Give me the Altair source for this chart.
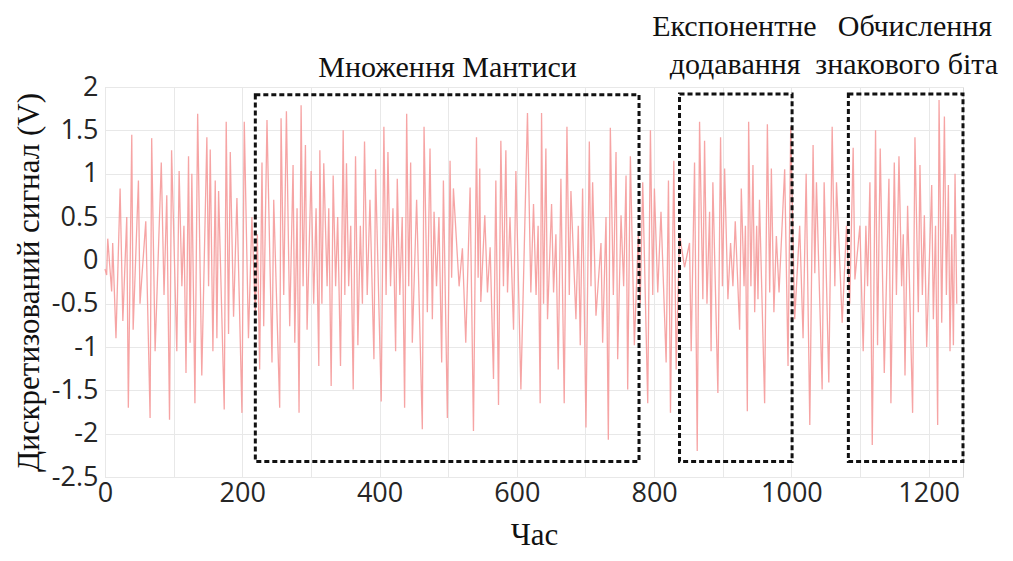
import altair as alt
import pandas as pd

# ---- signal extrema (time, volts) ----
time_a = [0, 2.4, 4, 9.7, 11.2, 16, 22, 26, 31.7, 34, 39, 41, 48.7, 51, 59.4, 65.7, 68, 73, 82, 86,
          90, 94, 97, 104.6, 108, 112, 115, 118, 121.7, 124, 126.5, 131, 135, 141, 148.4, 150.9, 153.3,
          157.2, 160.6, 163, 165.5, 173.7, 176.6, 180, 182.5, 187.3, 192.2, 199.5, 202.9]
volt_a = [-0.1, -0.17, 0.25, -0.36, 0.2, -0.9, 0.83, -0.7, 0.5, -1.7, 1.45, -0.8, 0.92, -0.5, 0.45, -1.82,
          1.41, -1.05, 1.13, -0.4, 0.75, -1.84, 1.27, -1.05, 1.03, -0.3, 0.4, -1.3, 1.2, -0.95, 1.0, -1.65,
          1.69, -1.33, 1.42, -0.3, 1.28, -1.05, 0.92, -0.9, 0.8, -1.72, 1.6, -0.85, 1.25, -0.65, 0.72, -1.76, 1.6]

time_b = [209, 214, 219, 222, 225.3, 228.7, 231.2, 236, 243.3, 245.8, 254.5, 256.5, 260.4, 264.3, 269.1,
          274, 276.5, 279.8, 282.7, 285.7, 288.6, 292, 294.4, 300.3, 304, 307.5, 311.5, 313, 316, 318.7,
          323.6, 326, 329.5, 332.4, 336, 339, 343.1, 347, 349.4, 351.8, 355, 358, 361.6, 365, 368.4, 372,
          375, 378.1, 382, 386, 391.8, 394.2, 402.4, 406.3]
volt_b = [-0.9, 0.5, -0.6, 0.3, -1.26, 1.13, -0.76, 1.62, -1.18, 0.7, -1.7, 1.64, -0.4, 1.72, -0.76,
          1.1, -0.95, 0.6, -1.76, 1.79, -0.3, 1.33, -0.8, 1.03, -0.5, 0.6, -1.22, 1.27, -0.5, 1.12,
          -0.3, 0.6, -1.45, 0.98, -0.3, 0.5, -1.22, 1.5, -0.4, 1.12, -0.3, 0.4, -1.49, 1.2, -0.98, 0.4,
          -0.5, 1.37, -0.4, 0.7, -1.14, 1.05, -1.63, 1.54]

time_c = [409.5, 412.2, 416, 419.5, 423.4, 425.8, 429.5, 433, 436.5, 439.5, 442.5, 445.3, 447.7, 454,
          462.3, 464.8, 469.6, 473.5, 476.9, 479.4, 483, 486.5, 490.5, 493, 498.8, 502.7, 505, 507.6,
          515.9, 520.7, 525.6, 531.9, 536.8, 541.2, 543.6, 546, 547.5, 553.3, 557.2, 561.1, 566, 569.4,
          573.3, 576.7, 580.5, 584, 586.4, 590, 595.2, 598.6, 605.9]
volt_c = [-0.4, 1.25, -0.3, 0.6, -1.05, 0.94, -0.4, 0.5, -1.7, 1.69, -0.3, 1.13, -0.95, 0.7,
          -1.95, 1.54, -0.6, 1.29, -0.68, 0.56, -0.3, 0.5, -1.18, 0.92, -1.82, 1.15, -0.2, 0.83,
          -0.3, 0.14, -0.95, 0.84, -1.97, 1.42, -0.2, 1.06, -0.48, 0.52, -0.37, 0.15, -1.37, 0.92,
          -1.67, 1.38, -0.3, 1.27, -0.37, 0.5, -0.8, 1.03, -1.49]

time_d = [615.5, 620.4, 624.3, 628, 631, 634, 636, 638.9, 642.3, 644.7, 650.6, 653.5, 656.9, 660.3,
          664.2, 669, 673, 676.4, 678.8, 686.1, 689.5, 692.4, 695.8, 700.7, 705.6, 708, 710.4, 715.3,
          722.6, 725, 729.9, 733.3, 736.2, 740.6, 744.5, 746.9, 751.8, 755.6, 759.1, 761.5, 765.4,
          771.2, 777, 779.8, 783.4, 790.7, 794.6, 798, 800.4, 805.3, 810]
volt_d = [1.7, -0.37, 0.65, -0.4, 0.4, -1.65, 1.7, -0.5, 1.29, -0.68, 0.65, -0.37, 0.3, -1.26,
          0.94, -1.65, 1.54, -0.4, 0.8, -0.68, 0.4, -0.98, 0.83, -1.93, 1.37, -0.3, 0.9, -0.64,
          0.2, -0.95, 0.5, -2.07, 1.53, -0.4, 1.25, -1.14, 0.52, -0.3, 0.98, -1.49, 1.2,
          -0.98, 0.3, -0.5, 0.9, -1.65, 1.5, -0.4, 0.83, -0.37, 0.56]

time_e = [817.5, 820.9, 823.8, 828.7, 832.1, 837, 844.3, 851.6, 854, 858.9, 862.8, 866.2, 871, 873.5,
          877, 880.8, 883, 885.6, 892.9, 896.8, 899.5, 902.7, 907.5, 911.4, 914.8, 918.2, 924.6, 927,
          931, 933, 935.8, 937.7, 941, 944, 946.5, 949.4, 951.3, 953.5, 961, 965, 968.4, 970.8, 974.5,
          978.1, 982, 990.2, 995.1, 999, 1004.8, 1012.1, 1017, 1021.5]
volt_e = [-1.18, 0.92, -1.76, 1.15, -1.26, 0.3, -0.08, 0.2, -1.05, 1.13, -2.2, 1.6, -0.45, 1.38,
          -0.5, 0.56, -1.05, 0.9, -1.53, 1.42, -0.3, 1.06, -0.45, 0.2, -0.3, 0.45, -0.8, 0.83,
          -0.3, 0.4, -1.74, 1.6, -0.3, 1.1, -0.6, 0.4, -0.45, 0.7, -1.65, 1.57, -0.37, 1.06, -0.6,
          0.28, -0.37, 1.05, -1.22, 1.54, -0.68, 0.4, -0.9, 1.0]

time_f = [1026.8, 1031.6, 1034.1, 1036.5, 1044.8, 1047.7, 1054.5, 1059.4, 1063.3, 1065.7, 1074, 1080.3,
          1085, 1090, 1092.5, 1099.8, 1104.6, 1108.5, 1111, 1114.4, 1117.8, 1122.6, 1125.5, 1129.4,
          1135.3, 1142.1, 1145, 1149.9, 1153, 1156.7, 1160.6, 1163, 1165.5, 1169.3, 1176.6, 1180,
          1184.9, 1187.3, 1190.8, 1193.7, 1197.1, 1204.4, 1206.8, 1210, 1213.1, 1215.1, 1219, 1222.9,
          1225.8, 1228.7, 1231.1, 1233.6, 1236, 1238.4, 1240.9]
volt_f = [-1.9, 1.33, -0.15, 0.9, -1.49, 0.9, -1.41, 1.54, -0.3, 0.9, -0.72, 0.4,
          -0.5, 1.3, -0.22, 0.4, -1.05, 0.4, -0.3, 0.9, -2.13, 1.5, -0.98, 1.29,
          -1.3, 0.94, -1.65, 1.13, -0.4, 1.2, -0.3, 0.3, -1.33, 0.63, -1.76, 1.42,
          -0.6, 1.1, -0.4, 0.52, -1.0, 0.87, -0.68, 0.4, -1.9, 1.85, -0.72, 1.66,
          -0.4, 0.87, -1.05, 0.3, -0.98, 1.0, -0.5]

# ---- highlighted regions ----
box_labels = ["Множення Мантиси", "Експонентне додавання", "Обчислення знакового біта"]
box_x1 = [219, 837, 1083]
box_x2 = [778, 1001, 1250]
box_y1 = [-2.32, -2.32, -2.32]
box_y2 = [1.91, 1.92, 1.92]

# ---- annotation texts ----
note_text = ["Множення Мантиси", "Експонентне", "додавання", "Обчислення", "знакового біта"]
note_x = [499, 917, 918, 1180, 1168]
note_y = [2.22, 2.69, 2.255, 2.69, 2.255]

x_ticks = list(range(0, 1300, 100))
y_ticks = [-2.5, -2, -1.5, -1, -0.5, 0, 0.5, 1, 1.5, 2]

times, volts = [], []
for tt, vv in [(time_a, volt_a), (time_b, volt_b), (time_c, volt_c),
               (time_d, volt_d), (time_e, volt_e), (time_f, volt_f)]:
    assert len(tt) == len(vv), (len(tt), len(vv), tt[0])
    times += tt
    volts += vv

signal = pd.DataFrame({"t": times, "v": volts})
boxes = pd.DataFrame({"name": box_labels, "x1": box_x1, "x2": box_x2, "y1": box_y1, "y2": box_y2})
notes = pd.DataFrame({"text": note_text, "x": note_x, "y": note_y})

xscale = alt.Scale(domain=[0, 1250], nice=False, zero=False)
yscale = alt.Scale(domain=[-2.5, 2], nice=False, zero=False)

xaxis = alt.Axis(values=x_ticks, format="d",
                 labelExpr="datum.value % 200 === 0 ? datum.label : ''",
                 labelOverlap=False, labelFlush=False, title="Час", grid=True,
                 gridColor="#e8e8e8", ticks=False, domain=False, labelFont="Open Sans",
                 labelFontSize=27, labelColor="#262626", labelPadding=3,
                 titleFont="Liberation Serif", titleFontSize=31, titleFontWeight="normal",
                 titleColor="#111111", titlePadding=14)
yaxis = alt.Axis(values=y_ticks,
                 labelExpr="datum.value < 0 ? '-' + format(-datum.value, '~g') : format(datum.value, '~g')",
                 labelOverlap=False, labelFlush=False, title="Дискретизований сигнал (V)", grid=True,
                 gridColor="#e8e8e8", ticks=False, domain=False, labelFont="Open Sans",
                 labelFontSize=27, labelColor="#262626", labelPadding=7,
                 titleFont="Liberation Serif", titleFontSize=31, titleFontWeight="normal",
                 titleColor="#111111", titlePadding=6)

line = alt.Chart(signal).mark_line(color="#f59a9a", strokeWidth=1.3, opacity=0.9).encode(
    x=alt.X("t:Q", scale=xscale, axis=xaxis),
    y=alt.Y("v:Q", scale=yscale, axis=yaxis),
)

rects = alt.Chart(boxes).mark_rect(fillOpacity=0, stroke="#111111", strokeWidth=3,
                                   strokeDash=[5, 3]).encode(
    x=alt.X("x1:Q", scale=xscale), x2="x2:Q",
    y=alt.Y("y1:Q", scale=yscale), y2="y2:Q",
)

texts = alt.Chart(notes).mark_text(font="Liberation Serif", fontSize=30, color="#111111",
                                   align="center", baseline="middle").encode(
    x=alt.X("x:Q", scale=xscale), y=alt.Y("y:Q", scale=yscale), text="text:N",
)

chart = alt.layer(line, rects, texts).properties(
    width=858, height=390,
    padding={"left": 97, "top": 79, "right": 42, "bottom": 76},
    autosize=alt.AutoSizeParams(type="none"),
    background="white",
).configure_view(stroke="#d8d8d8", strokeWidth=1)

chart.save("out.html", embed_options={"renderer": "svg", "actions": False})
